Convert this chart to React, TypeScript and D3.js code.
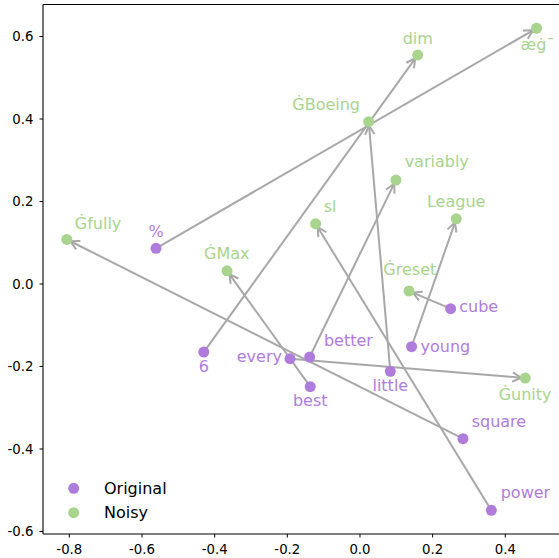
import React from "react";
import * as d3 from "d3";

const originalWords = ["%", "6", "every", "better", "best", "little", "young", "cube", "square", "power"];
const originalX = [-0.5615, -0.43, -0.1927, -0.1385, -0.137, 0.0835, 0.142, 0.2495, 0.2835, 0.3615];
const originalY = [0.0865, -0.165, -0.181, -0.177, -0.249, -0.2117, -0.152, -0.0598, -0.375, -0.5487];

const noisyWords = ["æġ¯", "dim", "Ġunity", "variably", "ĠMax", "ĠBoeing", "League", "Ġreset", "Ġfully", "sl"];
const noisyX = [0.486, 0.1587, 0.455, 0.099, -0.366, 0.0239, 0.265, 0.135, -0.807, -0.122];
const noisyY = [0.62, 0.555, -0.228, 0.252, 0.032, 0.3935, 0.158, -0.017, 0.108, 0.146];

const xTicks = [-0.8, -0.6, -0.4, -0.2, 0.0, 0.2, 0.4];
const yTicks = [-0.6, -0.4, -0.2, 0.0, 0.2, 0.4, 0.6];
const legendLabels = ["Original", "Noisy"];

// label placement (pixel offsets from the point: dx, dy, anchor)
const originalLabelPos: [number, number, string][] = [
  [0, -11, "middle"],
  [0, 20, "middle"],
  [-8, 3.6, "end"],
  [14.3, -11.3, "start"],
  [0, 19.3, "middle"],
  [0, 19.4, "middle"],
  [9, 5, "start"],
  [8.6, 3.6, "start"],
  [8.7, -12, "start"],
  [9.4, -12, "start"],
];
const noisyLabelPos: [number, number, string][] = [
  [-16, 21.7, "start"],
  [-15, -11, "start"],
  [-26.6, 22, "start"],
  [8.7, -13.3, "start"],
  [-23, -11.7, "start"],
  [-76.4, -11.7, "start"],
  [-29.3, -12, "start"],
  [-25.7, -16, "start"],
  [8, -10, "start"],
  [8, -11.4, "start"],
];

const W = 559;
const H = 558;
const PURPLE = "#b07cdc";
const GREEN = "#a8d48e";
const GRAY = "#a8a8a8";
const FONT = "DejaVu Sans, sans-serif";

export default function App() {
  const x = d3.scaleLinear().domain([-0.8725, 0.5533]).range([43, 561]);
  const y = d3.scaleLinear().domain([-0.6061, 0.6776]).range([534, 4.5]);

  const arrows = originalWords.map((_, i) => {
    const x0 = x(originalX[i]);
    const y0 = y(originalY[i]);
    const x1 = x(noisyX[i]);
    const y1 = y(noisyY[i]);
    const dx = x1 - x0;
    const dy = y1 - y0;
    const len = Math.hypot(dx, dy);
    const ux = dx / len;
    const uy = dy / len;
    const shrinkB = 4;
    const tx = x1 - ux * shrinkB;
    const ty = y1 - uy * shrinkB;
    const hl = 10;
    const ang = (28 * Math.PI) / 180;
    const ca = Math.cos(ang);
    const sa = Math.sin(ang);
    // rotate -u by +/- ang
    const bx = -ux;
    const by = -uy;
    const w1x = tx + hl * (bx * ca - by * sa);
    const w1y = ty + hl * (bx * sa + by * ca);
    const w2x = tx + hl * (bx * ca + by * sa);
    const w2y = ty + hl * (-bx * sa + by * ca);
    const line = d3.line()([
      [x0, y0],
      [tx, ty],
    ]);
    const head = d3.line()([
      [w1x, w1y],
      [tx, ty],
      [w2x, w2y],
    ]);
    return { line, head, key: i };
  });

  return (
    <svg
      width={W}
      height={H}
      style={{ position: "absolute", left: 0, top: 0, background: "#fff" }}
      fontFamily={FONT}
    >
      <rect x={0} y={0} width={W} height={H} fill="#fff" />
      {/* arrows */}
      {arrows.map((a) => (
        <g key={a.key} stroke={GRAY} strokeWidth={2} fill="none" strokeLinecap="butt">
          <path d={a.line ?? ""} />
          <path d={a.head ?? ""} strokeLinejoin="miter" />
        </g>
      ))}
      {/* points */}
      {originalWords.map((w, i) => (
        <circle key={"o" + w} cx={x(originalX[i])} cy={y(originalY[i])} r={5.5} fill={PURPLE} />
      ))}
      {noisyWords.map((w, i) => (
        <circle key={"n" + w} cx={x(noisyX[i])} cy={y(noisyY[i])} r={5.5} fill={GREEN} />
      ))}
      {/* labels */}
      {originalWords.map((w, i) => (
        <text
          key={"ol" + w}
          x={x(originalX[i]) + originalLabelPos[i][0]}
          y={y(originalY[i]) + originalLabelPos[i][1]}
          textAnchor={originalLabelPos[i][2] as any}
          fontSize={16}
          fill={PURPLE}
        >
          {w}
        </text>
      ))}
      {noisyWords.map((w, i) => (
        <text
          key={"nl" + w}
          x={x(noisyX[i]) + noisyLabelPos[i][0]}
          y={y(noisyY[i]) + noisyLabelPos[i][1]}
          textAnchor={noisyLabelPos[i][2] as any}
          fontSize={16}
          fill={GREEN}
        >
          {w}
        </text>
      ))}
      {/* spines */}
      <g stroke="#000" strokeWidth={1.1} fill="none">
        <line x1={43} y1={4.5} x2={43} y2={534} />
        <line x1={43} y1={534} x2={561} y2={534} />
        <line x1={43} y1={4.5} x2={561} y2={4.5} />
      </g>
      {/* x ticks */}
      {xTicks.map((t) => (
        <g key={"xt" + t}>
          <line x1={x(t)} x2={x(t)} y1={534} y2={537.5} stroke="#000" strokeWidth={1} />
          <text x={x(t)} y={554} textAnchor="middle" fontSize={13.3} fill="#000">
            {d3.format(".1f")(t).replace("−", "-")}
          </text>
        </g>
      ))}
      {/* y ticks */}
      {yTicks.map((t) => (
        <g key={"yt" + t}>
          <line x1={39.5} x2={43} y1={y(t)} y2={y(t)} stroke="#000" strokeWidth={1} />
          <text x={33.5} y={y(t) + 4.8} textAnchor="end" fontSize={13.3} fill="#000">
            {d3.format(".1f")(t).replace("−", "-")}
          </text>
        </g>
      ))}
      {/* legend */}
      {legendLabels.map((l, i) => (
        <g key={"lg" + l}>
          <circle cx={73.7} cy={488.3 + i * 24.4} r={5.5} fill={i === 0 ? PURPLE : GREEN} />
          <text x={104} y={493.8 + i * 24.4} fontSize={16} fill="#000">
            {l}
          </text>
        </g>
      ))}
    </svg>
  );
}
